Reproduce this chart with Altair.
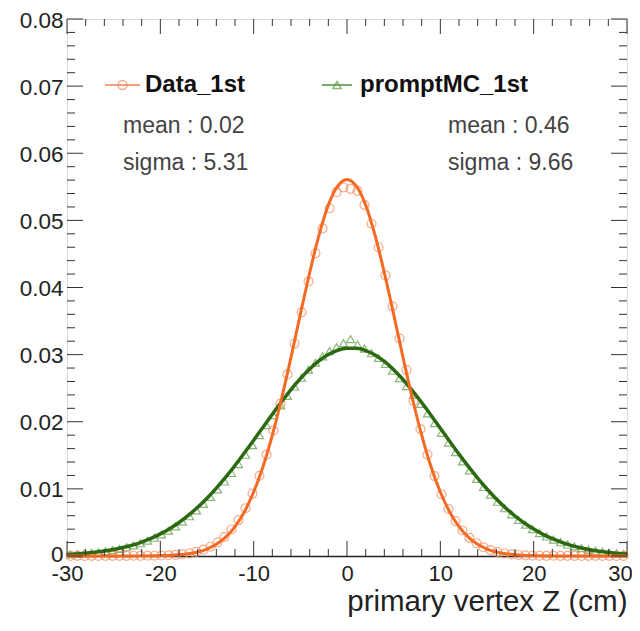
import altair as alt
import pandas as pd

# ---------------- data ----------------
z_bins = [-29.625, -28.875, -28.125, -27.375, -26.625, -25.875, -25.125, -24.375, -23.625, -22.875,
          -22.125, -21.375, -20.625, -19.875, -19.125, -18.375, -17.625, -16.875, -16.125, -15.375,
          -14.625, -13.875, -13.125, -12.375, -11.625, -10.875, -10.125, -9.375, -8.625, -7.875,
          -7.125, -6.375, -5.625, -4.875, -4.125, -3.375, -2.625, -1.875, -1.125, -0.375,
          0.375, 1.125, 1.875, 2.625, 3.375, 4.125, 4.875, 5.625, 6.375, 7.125,
          7.875, 8.625, 9.375, 10.125, 10.875, 11.625, 12.375, 13.125, 13.875, 14.625,
          15.375, 16.125, 16.875, 17.625, 18.375, 19.125, 19.875, 20.625, 21.375, 22.125,
          22.875, 23.625, 24.375, 25.125, 25.875, 26.625, 27.375, 28.125, 28.875, 29.625]

data_1st = [0.00001, 0.00002, 0.00001, 0.00002, 0.00001, 0.00003, 0.00002, 0.00003, 0.00002, 0.00004,
            0.00003, 0.00005, 0.00004, 0.00007, 0.00011, 0.00016, 0.00026, 0.00040, 0.00062, 0.00094,
            0.00138, 0.00201, 0.00285, 0.00395, 0.00535, 0.00712, 0.00930, 0.01195, 0.01510, 0.01870,
            0.02270, 0.02705, 0.03165, 0.03630, 0.04090, 0.04510, 0.04880, 0.05180, 0.05420, 0.05490,
            0.05470, 0.05440, 0.05230, 0.04950, 0.04600, 0.04180, 0.03720, 0.03240, 0.02770, 0.02310,
            0.01890, 0.01510, 0.01190, 0.00920, 0.00700, 0.00520, 0.00380, 0.00270, 0.00190, 0.00130,
            0.00088, 0.00058, 0.00038, 0.00024, 0.00015, 0.00010, 0.00006, 0.00004, 0.00003, 0.00004,
            0.00002, 0.00003, 0.00002, 0.00001, 0.00002, 0.00003, 0.00001, 0.00002, 0.00001, 0.00001]

mc_1st = [0.00022, 0.00030, 0.00037, 0.00046, 0.00058, 0.00071, 0.00088, 0.00107, 0.00130, 0.00157,
          0.00190, 0.00228, 0.00272, 0.00322, 0.00378, 0.00441, 0.00512, 0.00592, 0.00680, 0.00776,
          0.00880, 0.00992, 0.01110, 0.01236, 0.01370, 0.01508, 0.01652, 0.01800, 0.01950, 0.02098,
          0.02245, 0.02386, 0.02525, 0.02655, 0.02775, 0.02880, 0.02975, 0.03050, 0.03110, 0.03170,
          0.03230, 0.03150, 0.03090, 0.03020, 0.02950, 0.02860, 0.02760, 0.02650, 0.02530, 0.02400,
          0.02265, 0.02125, 0.01980, 0.01835, 0.01690, 0.01548, 0.01410, 0.01276, 0.01148, 0.01028,
          0.00915, 0.00808, 0.00711, 0.00621, 0.00539, 0.00466, 0.00400, 0.00342, 0.00290, 0.00244,
          0.00205, 0.00171, 0.00142, 0.00117, 0.00095, 0.00078, 0.00063, 0.00050, 0.00040, 0.00031]

fit_z = [-30, -29, -28, -27, -26, -25, -24, -23, -22, -21, -20, -19, -18, -17, -16, -15, -14, -13, -12, -11,
         -10, -9, -8, -7, -6, -5, -4, -3, -2, -1, 0, 1, 2, 3, 4, 5, 6, 7, 8, 9,
         10, 11, 12, 13, 14, 15, 16, 17, 18, 19, 20, 21, 22, 23, 24, 25, 26, 27, 28, 29, 30]

fit_data = [0.0, 0.0, 0.0, 0.0, 0.0, 0.0, 0.0, 0.0, 0.00001, 0.00002, 0.00005, 0.00009, 0.00018, 0.00033, 0.0006,
            0.00104, 0.00174, 0.0028, 0.00437, 0.00656, 0.00953, 0.0133, 0.018, 0.0235, 0.0296, 0.036, 0.0422,
            0.0478, 0.0523, 0.0551, 0.0561, 0.0551, 0.0523, 0.0478, 0.0422, 0.036, 0.0296, 0.0235, 0.018,
            0.0133, 0.00953, 0.00656, 0.00437, 0.0028, 0.00174, 0.00104, 0.0006, 0.00033, 0.00018, 0.00009,
            0.00005, 0.00002, 0.00001, 0.0, 0.0, 0.0, 0.0, 0.0, 0.0, 0.0, 0.0]

fit_mc = [0.00021, 0.00030, 0.00040, 0.00055, 0.00073, 0.00096, 0.00126, 0.00162, 0.00208, 0.00263,
          0.00329, 0.00407, 0.00499, 0.00605, 0.00726, 0.00861, 0.01011, 0.01174, 0.01349, 0.01534,
          0.01725, 0.01919, 0.02112, 0.02301, 0.02479, 0.02642, 0.02787, 0.02908, 0.03001, 0.03065,
          0.03096, 0.03095, 0.03061, 0.02995, 0.02899, 0.02776, 0.02630, 0.02465, 0.02286, 0.02097,
          0.01903, 0.01709, 0.01518, 0.01335, 0.01161, 0.00998, 0.00850, 0.00716, 0.00596, 0.00491,
          0.00401, 0.00323, 0.00258, 0.00204, 0.00159, 0.00123, 0.00094, 0.00071, 0.00053, 0.00039, 0.00029]

series_names = ["Data_1st", "promptMC_1st"]
mean_labels = ["mean : 0.02", "mean : 0.46"]
sigma_labels = ["sigma : 5.31", "sigma : 9.66"]

x_major = [-30, -20, -10, 0, 10, 20, 30]
x_minor = [-28, -26, -24, -22, -18, -16, -14, -12, -8, -6, -4, -2,
           2, 4, 6, 8, 12, 14, 16, 18, 22, 24, 26, 28]
y_major = [0, 0.01, 0.02, 0.03, 0.04, 0.05, 0.06, 0.07, 0.08]
y_minor = [0.002, 0.004, 0.006, 0.008, 0.012, 0.014, 0.016, 0.018, 0.022, 0.024, 0.026, 0.028,
           0.032, 0.034, 0.036, 0.038, 0.042, 0.044, 0.046, 0.048, 0.052, 0.054, 0.056, 0.058,
           0.062, 0.064, 0.066, 0.068, 0.072, 0.074, 0.076, 0.078]

x_title = "primary vertex Z (cm)"

# ---------------- style ----------------
W, H = 560, 537
TOP = 11
FONT = "Liberation Sans"
ORANGE = "#f26a24"
ORANGE_PT = "#f48a58"
GREEN = "#2b6a10"
GREEN_PT = "#5a9640"
TICK = "#333333"

xs = alt.Scale(domain=[-30, 30], nice=False, zero=False)
ys = alt.Scale(domain=[0, 0.08], nice=False, zero=False)

pts_df = pd.DataFrame({"z": z_bins, "data": data_1st, "mc": mc_1st})
fit_df = pd.DataFrame({"z": fit_z, "data": fit_data, "mc": fit_mc})

x_axis = alt.Axis(values=x_major, ticks=False, grid=False, domain=True, domainColor="#222222",
                  domainWidth=1.5, labelFontSize=22, labelFont=FONT, labelColor="#222222",
                  labelPadding=7, labelFlush=False,
                  labelOffset={"condition": {"test": "datum.value == 30", "value": -7}, "value": 0},
                  labelExpr="replace(datum.label, '\u2212', '-')",
                  title=x_title, titleAnchor="end", titleFontSize=29.5, titleFont=FONT,
                  titleFontWeight="normal", titleColor="#222222", titlePadding=3)
y_axis = alt.Axis(values=y_major, format=".2f", labelExpr="datum.value == 0 ? '0' : datum.label",
                  ticks=False, grid=False, domain=False, labelFontSize=22.5, labelFont=FONT,
                  labelColor="#222222", labelPadding=4, labelBaseline="alphabetic",
                  labelOffset={"condition": {"test": "datum.value == 0", "value": 5}, "value": 8},
                  title=None)


def X(field):
    return alt.X(field, scale=xs, axis=x_axis)


def Y(field):
    return alt.Y(field, scale=ys, axis=y_axis)


mc_pts = alt.Chart(pts_df).mark_point(shape="triangle-up", filled=False, size=65, strokeWidth=1.2,
                                      color=GREEN_PT, opacity=0.7).encode(x=X("z:Q"), y=Y("mc:Q"))
data_pts = alt.Chart(pts_df).mark_point(shape="circle", filled=False, size=80, strokeWidth=1.2,
                                        color=ORANGE_PT, opacity=0.7).encode(x=X("z:Q"), y=Y("data:Q"))
mc_fit = alt.Chart(fit_df).mark_line(color=GREEN, strokeWidth=3.5, interpolate="monotone").encode(
    x=X("z:Q"), y=Y("mc:Q"))
data_fit = alt.Chart(fit_df).mark_line(color=ORANGE, strokeWidth=3, interpolate="monotone").encode(
    x=X("z:Q"), y=Y("data:Q"))


def xticks(vals, length, top):
    df = pd.DataFrame({"v": vals})
    y0, y1 = (0, length) if top else (H, H - length)
    return alt.Chart(df).mark_rule(color=TICK, strokeWidth=1).encode(
        x=X("v:Q"), y=alt.value(y0), y2=alt.value(y1))


def yticks(vals, length, right):
    df = pd.DataFrame({"v": vals})
    x0, x1 = (W, W - length) if right else (0, length)
    return alt.Chart(df).mark_rule(color=TICK, strokeWidth=1).encode(
        y=Y("v:Q"), x=alt.value(x0), x2=alt.value(x1))


tick_layers = [
    xticks(x_major, 15, False), xticks(x_minor, 7, False),
    xticks(x_major, 15, True), xticks(x_minor, 7, True),
    yticks(y_major, 16, False), yticks(y_minor, 8, False),
    yticks(y_major, 16, True), yticks(y_minor, 8, True),
]


def text_layer(label, px, py, bold=False, color="#222222", size=22):
    df = pd.DataFrame({"t": [label]})
    return alt.Chart(df).mark_text(align="left", baseline="middle", font=FONT, fontSize=size,
                                   fontWeight="bold" if bold else "normal", color=color).encode(
        text="t:N", x=alt.value(px), y=alt.value(py))


def legend_marker(x0, x1, py, color, shape, size):
    df = pd.DataFrame({"s": [shape]})
    line = alt.Chart(df).mark_rule(color=color, strokeWidth=2, opacity=0.8).encode(
        x=alt.value(x0), x2=alt.value(x1), y=alt.value(py))
    pt = alt.Chart(df).mark_point(shape=shape, filled=False, size=size, strokeWidth=1.5,
                                  color=color).encode(
        x=alt.value((x0 + x1) / 2), y=alt.value(py))
    return [line, pt]


LEG_Y = 66
annot = (
    legend_marker(38, 73, LEG_Y, ORANGE_PT, "circle", 80)
    + legend_marker(255, 285, LEG_Y, GREEN_PT, "triangle-up", 65)
    + [
        text_layer(series_names[0], 78, LEG_Y, bold=True, color="#111111", size=24),
        text_layer(series_names[1], 293, LEG_Y, bold=True, color="#111111", size=24),
        text_layer(mean_labels[0], 56, 107, color="#444444", size=23),
        text_layer(sigma_labels[0], 56, 144, color="#444444", size=23),
        text_layer(mean_labels[1], 381, 107, color="#444444", size=23),
        text_layer(sigma_labels[1], 381, 144, color="#444444", size=23),
    ]
)

chart = alt.layer(mc_pts, data_pts, mc_fit, data_fit, *tick_layers, *annot).properties(
    width=W, height=H,
    autosize=alt.AutoSizeParams(type="none"),
    padding={"left": 59, "top": TOP, "right": 5, "bottom": 66},
).configure_view(stroke="#888888", strokeWidth=1).configure(background="white")

chart.save("out.html", embed_options={"renderer": "svg", "actions": False})
